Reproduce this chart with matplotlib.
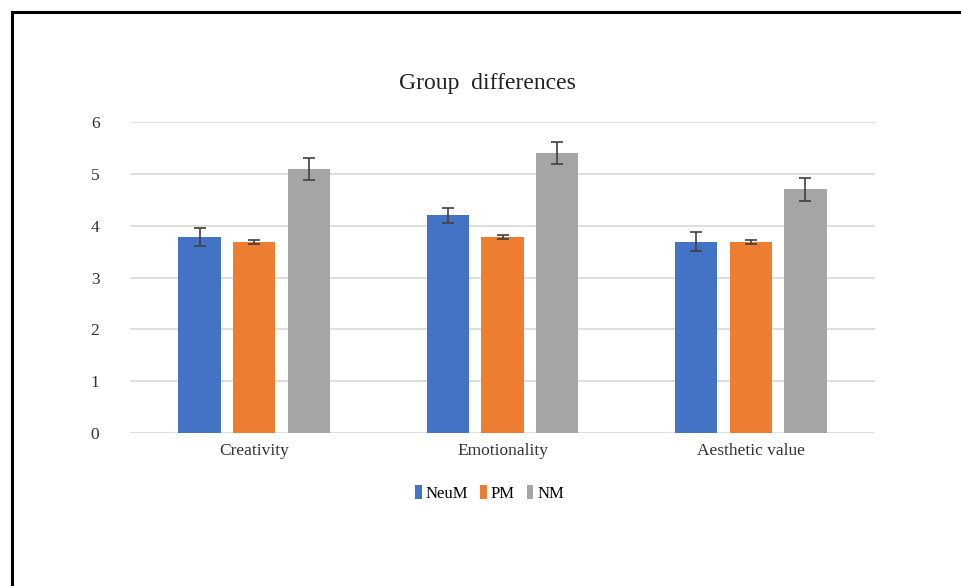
import numpy as np
import matplotlib
matplotlib.use("Agg")
import matplotlib.pyplot as plt
from matplotlib.lines import Line2D
from matplotlib.patches import Patch

categories = ["Creativity", "Emotionality", "Aesthetic value"]
groups = ["NeuM", "PM", "NM"]
neum = [3.78, 4.20, 3.69]
pm = [3.69, 3.78, 3.69]
nm = [5.10, 5.40, 4.70]
neum_err = [0.17, 0.15, 0.18]
pm_err = [0.04, 0.04, 0.04]
nm_err = [0.21, 0.21, 0.22]

COLORS = ["#4472C4", "#ED7D31", "#A5A5A5"]
SERIF = ["Liberation Serif", "DejaVu Serif"]

fig = plt.figure(figsize=(9.62, 5.86), dpi=100)
ax = fig.add_axes([0.1351, 0.2611, 0.7745, 0.5307])

x = np.arange(len(categories))
width = 0.17
offsets = [-0.22, 0.0, 0.22]
for vals, errs, off, col in zip([neum, pm, nm], [neum_err, pm_err, nm_err], offsets, COLORS):
    ax.bar(x + off, vals, width, color=col, zorder=3,
           yerr=errs, capsize=4,
           error_kw=dict(ecolor="#404040", elinewidth=1.2, capthick=1.2))

ax.set_xlim(-0.5, 2.5)
ax.set_ylim(0, 6)
ax.set_yticks(range(7))
ax.yaxis.grid(True, color="#d9d9d9", lw=1.2, zorder=0)
ax.set_axisbelow(True)
for s in ax.spines.values():
    s.set_visible(False)
ax.tick_params(length=0, labelsize=12.5, colors="#333333", pad=22)
ax.tick_params(axis="x", pad=7)
ax.set_xticks(x)
ax.set_xticklabels(categories)
for lab in ax.get_xticklabels() + ax.get_yticklabels():
    lab.set_family(SERIF)

fig.text(0.507, 0.858, "Group  differences", ha="center", va="center",
         fontsize=17, family=SERIF, color="#222222")

handles = [Patch(facecolor=c, edgecolor="none") for c in COLORS]
fig.legend(handles, groups, loc="center", bbox_to_anchor=(0.509, 0.158),
           ncol=3, frameon=False, handlelength=0.4, handleheight=0.9,
           handletextpad=0.25, columnspacing=0.7,
           prop=dict(family=SERIF, size=12))

# page frame (top and left edges only)
fig.add_artist(Line2D([12 / 962, 1.0], [1 - 12 / 586] * 2, color="black", lw=2.2,
                      transform=fig.transFigure))
fig.add_artist(Line2D([12 / 962] * 2, [0.0, 1 - 12 / 586], color="black", lw=2.2,
                      transform=fig.transFigure))

fig.savefig("out.png", dpi=100)
